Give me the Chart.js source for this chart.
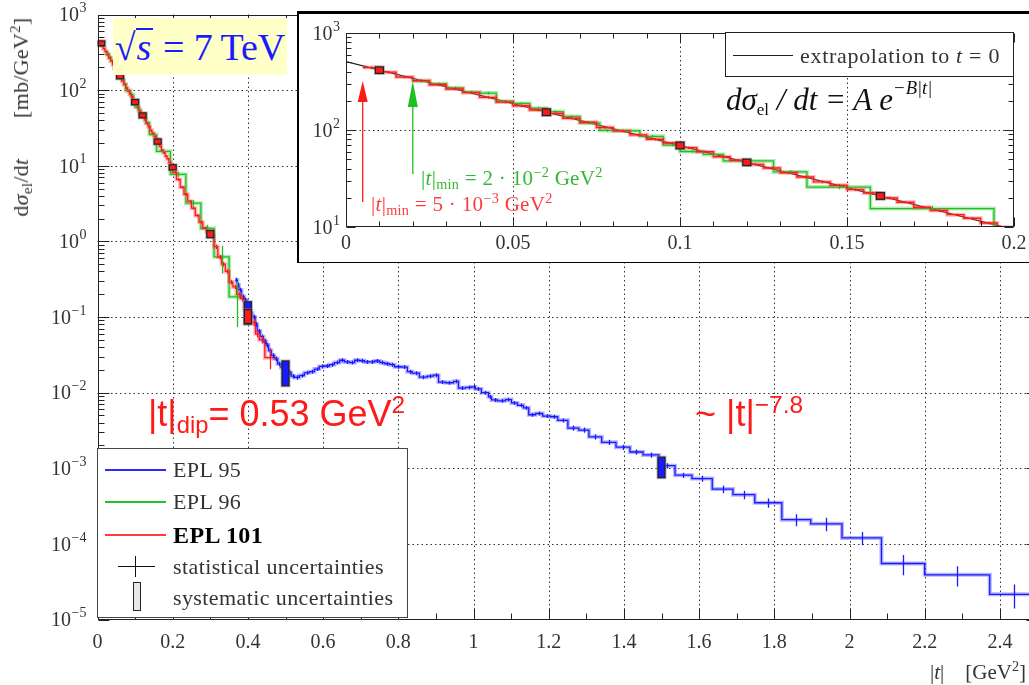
<!DOCTYPE html>
<html>
<head>
<meta charset="utf-8">
<script src="https://cdn.jsdelivr.net/npm/chart.js@4.4.1/dist/chart.umd.min.js"></script>
<style>
  body { margin: 0; width: 1029px; height: 685px; overflow: hidden; background: #fff; position: relative;
         font-family: "Liberation Serif", serif; color: #333; }
  #main { position: absolute; left: 0; top: 0; }
  #insetBox { position: absolute; left: 297px; top: 11px; width: 760px; height: 248px; background: #fff;
              border-top: 3px solid #000; border-left: 2px solid #000; border-bottom: 1px solid #000; }
  #inset { position: absolute; left: 0; top: 0; }
  .abs { position: absolute; white-space: nowrap; line-height: 1; }
  sub, sup { font-size: 0.68em; line-height: 0; }
  sub { vertical-align: -0.3em; }
  sup { vertical-align: 0.55em; }
  #ytitle { left: 21px; top: 117px; font-size: 22px; letter-spacing: 0.3px; transform: translate(-50%, -50%) rotate(-90deg); }
  #xtitle { left: 930px; top: 662px; font-size: 21px; }
  #energy { left: 113px; top: 18px; width: 174px; height: 57px; background: #ffffc8; color: #1a1aff;
            font-size: 38px; display: flex; align-items: center; justify-content: center; }
  #energy .ov { border-top: 2px solid #1a1aff; font-style: italic; padding: 0 2px 0 1px; line-height: 0.9; }
  .red { color: #ff1a1a; font-family: "Liberation Sans", Arial, sans-serif; font-size: 36px; }
  #legend { left: 97px; top: 448px; width: 311px; height: 170px; box-sizing: border-box;
            border: 1.5px solid #444; background: #fff; }
  #legend .txt { position: absolute; left: 75px; transform: translateY(-50%); font-size: 22px; letter-spacing: 0.4px; white-space: nowrap; }
  #legend .ln { position: absolute; left: 7px; width: 61px; height: 1.5px; }
  #extrap { left: 725px; top: 32px; width: 289px; height: 45px; box-sizing: border-box; border: 1px solid #222; background: #fff; }
  #formula { left: 726px; top: 84px; font-size: 31px; font-style: italic; color: #111; }
  .lab { font-size: 21px; letter-spacing: 0.3px; }
</style>
</head>
<body>
<canvas id="main" width="1060" height="685"></canvas>

<div id="ytitle" class="abs">d<i>σ</i><sub>el</sub>/d<i>t</i>&nbsp;&nbsp;&nbsp;&nbsp;&nbsp;&nbsp;&nbsp;[mb/GeV<sup>2</sup>]</div>
<div id="xtitle" class="abs">|<i>t</i>|&nbsp;&nbsp;&nbsp;&nbsp;[GeV<sup>2</sup>]</div>
<div id="energy" class="abs"><span>√</span><span class="ov">s</span>&nbsp;=&nbsp;7&thinsp;TeV</div>
<div class="abs red" style="left:148px; top:396px;">|t|<sub style="font-size:0.66em">dip</sub>= 0.53 GeV<sup>2</sup></div>
<div class="abs red" style="left:695px; top:396px;">~ |t|<sup>−7.8</sup></div>

<div id="legend" class="abs">
  <div class="ln" style="top:20px; background:#2a2aff;"></div>
  <div class="txt" style="top:21px;">EPL 95</div>
  <div class="ln" style="top:52px; background:#2ac02a;"></div>
  <div class="txt" style="top:53px;">EPL 96</div>
  <div class="ln" style="top:85px; background:#ff3a3a;"></div>
  <div class="txt" style="top:86px; font-weight:bold; font-size:24px; color:#000;">EPL 101</div>
  <div style="position:absolute; left:20px; top:117px; width:37px; height:1.2px; background:#111;"></div>
  <div style="position:absolute; left:37px; top:107px; width:1.2px; height:21px; background:#111;"></div>
  <div class="txt" style="top:118px;">statistical uncertainties</div>
  <div style="position:absolute; left:35px; top:133px; width:6px; height:27px; background:#e8e8e8; border:1px solid #222;"></div>
  <div class="txt" style="top:149px;">systematic uncertainties</div>
</div>

<div id="insetBox"><canvas id="inset" width="760" height="248"></canvas></div>
<div id="extrap" class="abs">
  <div style="position:absolute; left:7px; top:22px; width:60px; height:1.2px; background:#222;"></div>
  <div class="abs" style="left:74px; top:12px; font-size:22px; letter-spacing:0.7px;">extrapolation to <i>t</i> = 0</div>
</div>
<div id="formula" class="abs">dσ<sub style="font-style:normal; font-size:0.55em">el</sub> / dt = A e<sup style="font-size:0.6em; vertical-align:0.85em">−B|t|</sup></div>
<div class="abs lab" style="left:421px; top:168px; color:#33b833;">|<i>t</i>|<sub>min</sub> = 2 · 10<sup>−2</sup> GeV<sup>2</sup></div>
<div class="abs lab" style="left:371px; top:194px; color:#ff3a3a;">|<i>t</i>|<sub>min</sub> = 5 · 10<sup>−3</sup> GeV<sup>2</sup></div>

<script>
// ---------- data ----------
// EPL 95 (blue): bin lower edges in |t| [GeV^2], dsigma/dt [mb/GeV^2], relative stat. error
const blueLo = [0.366, 0.372, 0.376, 0.383, 0.390, 0.397, 0.404, 0.412, 0.419, 0.425,
  0.433, 0.441, 0.449, 0.455, 0.462, 0.470, 0.479, 0.488, 0.497, 0.507,
  0.515, 0.524, 0.537, 0.550, 0.564, 0.577, 0.590, 0.604, 0.617, 0.630,
  0.644, 0.657, 0.671, 0.684, 0.697, 0.710, 0.724, 0.737, 0.751, 0.764,
  0.777, 0.790, 0.808, 0.824, 0.837, 0.856, 0.877, 0.893, 0.907, 0.925,
  0.947, 0.960, 0.979, 0.995, 1.005, 1.021, 1.040, 1.048, 1.064, 1.085,
  1.101, 1.117, 1.133, 1.147, 1.165, 1.184, 1.205, 1.224, 1.251, 1.280,
  1.307, 1.341, 1.379, 1.416, 1.451, 1.493, 1.536, 1.581, 1.635, 1.690,
  1.748, 1.820, 1.897, 1.980, 2.085, 2.200, 2.373];
const blueEnd = 2.5;
const blueVals = [0.308, 0.264, 0.228, 0.185, 0.168, 0.130, 0.112, 0.100, 0.080, 0.065,
  0.055, 0.047, 0.0425, 0.036, 0.031, 0.028, 0.024, 0.0216, 0.0195, 0.0183,
  0.0165, 0.0159, 0.0168, 0.0183, 0.0189, 0.0205, 0.0222, 0.0225, 0.0234, 0.0250,
  0.0268, 0.0255, 0.0250, 0.0268, 0.0264, 0.0255, 0.0255, 0.0262, 0.0250, 0.0241,
  0.0234, 0.0220, 0.0218, 0.0189, 0.0181, 0.0160, 0.0165, 0.0170, 0.0138, 0.0135,
  0.0141, 0.0115, 0.0117, 0.0119, 0.0112, 0.0100, 0.0088, 0.0080, 0.0078, 0.0081,
  0.0073, 0.0068, 0.0063, 0.0051, 0.0053, 0.0049, 0.0048, 0.0043, 0.0034, 0.0032,
  0.0026, 0.0022, 0.0019, 0.00164, 0.0015, 0.00108, 0.00081, 0.00073, 0.00053, 0.000447,
  0.00035, 0.000209, 0.000184, 0.00012, 0.000055, 0.000039, 0.0000215];
const blueErr = [0.07, 0.07, 0.07, 0.07, 0.07, 0.07, 0.07, 0.07, 0.07, 0.07,
  0.07, 0.07, 0.07, 0.07, 0.07, 0.07, 0.07, 0.07, 0.07, 0.07,
  0.07, 0.07, 0.06, 0.06, 0.06, 0.06, 0.06, 0.06, 0.06, 0.06,
  0.06, 0.06, 0.06, 0.06, 0.06, 0.06, 0.06, 0.06, 0.06, 0.06,
  0.06, 0.06, 0.06, 0.06, 0.06, 0.06, 0.06, 0.06, 0.06, 0.06,
  0.06, 0.06, 0.06, 0.06, 0.06, 0.06, 0.06, 0.06, 0.06, 0.06,
  0.06, 0.06, 0.06, 0.06, 0.06, 0.06, 0.06, 0.06, 0.08, 0.08,
  0.08, 0.08, 0.08, 0.08, 0.08, 0.08, 0.08, 0.09, 0.12, 0.13,
  0.14, 0.18, 0.20, 0.20, 0.30, 0.30, 0.35];

// EPL 96 (green)
const greenLo = [0.020, 0.025, 0.030, 0.035, 0.040, 0.045, 0.050, 0.055, 0.060, 0.065,
  0.070, 0.076, 0.080, 0.088, 0.095, 0.100, 0.107, 0.113, 0.128, 0.138,
  0.157, 0.194, 0.235, 0.275, 0.310, 0.350];
const greenEnd = 0.39;
const greenVals = [320, 300, 272, 245, 240, 198, 188, 168, 155, 138,
  118, 99, 98, 86, 70, 60, 56, 48, 37, 25.8,
  15.5, 7.7, 3.2, 1.48, 0.625, 0.185];
const greenErr = [0.03, 0.03, 0.03, 0.03, 0.03, 0.03, 0.03, 0.03, 0.03, 0.03,
  0.03, 0.03, 0.03, 0.03, 0.03, 0.03, 0.03, 0.03, 0.04, 0.05,
  0.06, 0.08, 0.10, 0.12, 0.40, 0.60];

// EPL 101 (red)
const redLo = [0.005, 0.010, 0.015, 0.020, 0.025, 0.030, 0.035, 0.040, 0.045, 0.050,
  0.055, 0.060, 0.065, 0.070, 0.075, 0.080, 0.085, 0.090, 0.095, 0.100,
  0.105, 0.110, 0.115, 0.120, 0.125, 0.130, 0.135, 0.140, 0.145, 0.150,
  0.155, 0.160, 0.165, 0.170, 0.175, 0.180, 0.185, 0.190, 0.195,
  0.200, 0.210, 0.220, 0.230, 0.240, 0.250, 0.260, 0.270, 0.280, 0.290,
  0.300, 0.310, 0.320, 0.330, 0.340, 0.350, 0.360, 0.370, 0.380, 0.390,
  0.400, 0.410, 0.420, 0.430, 0.445];
const redEnd = 0.475;
const redVals = [440, 395, 352, 323, 293, 265, 243, 217, 194, 178,
  161, 148, 132, 120, 106, 98, 89, 80.3, 73.5, 65.8,
  59.6, 53.0, 48.8, 44.2, 40.6, 36.2, 32.8, 29.2, 26.9, 24.3,
  22.4, 19.9, 18.0, 16.0, 14.8, 13.4, 12.3, 11.0, 9.94,
  8.2, 6.6, 5.2, 4.2, 3.4, 2.75, 2.2, 1.8, 1.5, 1.35,
  1.2, 0.85, 0.62, 0.50, 0.40, 0.29, 0.25, 0.20, 0.175, 0.13,
  0.105, 0.085, 0.06, 0.05, 0.029];
const redErr = [0.03, 0.03, 0.03, 0.03, 0.03, 0.03, 0.03, 0.03, 0.03, 0.03,
  0.03, 0.03, 0.03, 0.03, 0.03, 0.03, 0.03, 0.03, 0.03, 0.03,
  0.03, 0.03, 0.03, 0.03, 0.03, 0.03, 0.03, 0.03, 0.03, 0.03,
  0.03, 0.03, 0.03, 0.03, 0.03, 0.03, 0.03, 0.03, 0.03,
  0.04, 0.04, 0.04, 0.04, 0.04, 0.04, 0.04, 0.04, 0.04, 0.04,
  0.07, 0.07, 0.07, 0.07, 0.07, 0.07, 0.07, 0.07, 0.07, 0.07,
  0.10, 0.10, 0.10, 0.10, 0.30];

// systematic uncertainty boxes
const sysT      = [0.01, 0.06, 0.10, 0.12, 0.16, 0.20, 0.30, 0.40, 0.40, 0.50, 1.50];
const sysLo     = [383, 141, 64, 43, 19.3, 8.8, 1.12, 0.080, 0.082, 0.0123, 0.00075];
const sysHi     = [447, 165, 75, 50, 22.6, 10.3, 1.39, 0.159, 0.125, 0.0262, 0.0014];
const sysSeries = ['red', 'red', 'red', 'red', 'red', 'red', 'red', 'blue', 'red', 'blue', 'blue'];

// exponential extrapolation to t = 0 (inset)
const extrapT = [0, 0.2];
const extrapV = [506, 9.4];
// |t|min arrows (inset)
const arrowT = [0.005, 0.02];
const arrowSeries = ['red', 'green'];

// tick labels
const mainXTicks = [0, 0.2, 0.4, 0.6, 0.8, 1, 1.2, 1.4, 1.6, 1.8, 2, 2.2, 2.4];
const mainYExp = [-5, -4, -3, -2, -1, 0, 1, 2, 3];
const insetXTicks = [0, 0.05, 0.1, 0.15, 0.2];
const insetYExp = [1, 2, 3];

// ---------- drawing ----------
const colors = { blue: '#1a1aff', green: '#1fbf1f', red: '#ff1a1a' };
const bands = { blue: 'rgba(70,70,255,0.40)', green: 'rgba(40,200,40,0.35)', red: 'rgba(255,80,80,0.40)' };

function histData(lo, vals, end) {
  const pts = lo.map((t, i) => ({ x: t, y: vals[i] }));
  pts.push({ x: end, y: vals[vals.length - 1] });
  return pts;
}

function histSet(lo, vals, end, color, width, order) {
  return {
    data: histData(lo, vals, end), borderColor: color, borderWidth: width,
    stepped: true, pointRadius: 0, fill: false, order: order
  };
}

const series = {
  blue: { lo: blueLo, vals: blueVals, end: blueEnd, err: blueErr },
  green: { lo: greenLo, vals: greenVals, end: greenEnd, err: greenErr },
  red: { lo: redLo, vals: redVals, end: redEnd, err: redErr }
};

function fmt(v) { return String(parseFloat(v.toFixed(3))); }

function makeFrame(cfg) {
  return {
    id: 'frame',
    beforeDatasetsDraw(chart) {
      const { ctx, chartArea: a, scales: { x, y } } = chart;
      ctx.save();
      ctx.strokeStyle = '#333';
      ctx.lineWidth = 1;
      ctx.setLineDash([1.5, 3]);
      ctx.beginPath();
      cfg.gridX.forEach(v => {
        const px = Math.round(x.getPixelForValue(v)) + 0.5;
        ctx.moveTo(px, a.top); ctx.lineTo(px, a.bottom);
      });
      cfg.gridY.forEach(e => {
        const py = Math.round(y.getPixelForValue(Math.pow(10, e))) + 0.5;
        ctx.moveTo(a.left, py); ctx.lineTo(a.right, py);
      });
      ctx.stroke();
      ctx.restore();
    },
    afterDatasetsDraw(chart) {
      const { ctx, chartArea: a, scales: { x, y } } = chart;
      ctx.save();
      ctx.beginPath();
      ctx.rect(a.left, a.top, a.right - a.left, a.bottom - a.top);
      ctx.clip();

      // statistical error bars at bin centres
      cfg.series.forEach(name => {
        const s = series[name];
        ctx.strokeStyle = colors[name];
        ctx.lineWidth = 1.3;
        ctx.beginPath();
        s.lo.forEach((t0, i) => {
          const t1 = i + 1 < s.lo.length ? s.lo[i + 1] : s.end;
          const px = Math.round(x.getPixelForValue((t0 + t1) / 2)) + 0.5;
          const v = s.vals[i], e = s.err[i];
          ctx.moveTo(px, y.getPixelForValue(v * (1 + e)));
          ctx.lineTo(px, y.getPixelForValue(Math.max(v * (1 - e), 1e-9)));
        });
        ctx.stroke();
      });

      // systematic boxes
      sysT.forEach((t, i) => {
        if (t < cfg.sysMin || t > cfg.sysMax) return;
        const cx = x.getPixelForValue(t), w = cfg.boxW;
        const y0 = y.getPixelForValue(sysHi[i]), y1 = y.getPixelForValue(sysLo[i]);
        ctx.fillStyle = 'rgba(130,130,130,0.55)';
        ctx.fillRect(cx - w / 2 - 1.5, y0 - 1.5, w + 3, y1 - y0 + 3);
        ctx.fillStyle = colors[sysSeries[i]];
        ctx.fillRect(cx - w / 2, y0, w, y1 - y0);
        ctx.strokeStyle = '#222';
        ctx.lineWidth = 1.2;
        ctx.strokeRect(cx - w / 2, y0, w, y1 - y0);
      });

      // |t|min arrows
      if (cfg.arrows) {
        arrowT.forEach((t, i) => {
          const px = x.getPixelForValue(t), g = cfg.arrows[i];
          ctx.strokeStyle = colors[arrowSeries[i]];
          ctx.fillStyle = colors[arrowSeries[i]];
          ctx.lineWidth = 1.3;
          ctx.beginPath();
          ctx.moveTo(px, g.bottom); ctx.lineTo(px, g.head);
          ctx.stroke();
          ctx.beginPath();
          ctx.moveTo(px, g.tip); ctx.lineTo(px - 5, g.head); ctx.lineTo(px + 5, g.head);
          ctx.closePath();
          ctx.fill();
        });
      }
      ctx.restore();

      // frame and ticks
      ctx.save();
      ctx.strokeStyle = '#222';
      ctx.lineWidth = 1;
      ctx.setLineDash([]);
      const L = Math.round(a.left) + 0.5, R = Math.round(a.right) - 0.5;
      const T = Math.round(a.top) + 0.5, B = Math.round(a.bottom) - 0.5;
      ctx.strokeRect(L, T, R - L, B - T);
      ctx.beginPath();
      const nx = Math.round(cfg.xMax / cfg.xMinor);
      for (let k = 0; k <= nx; k++) {
        const px = Math.round(x.getPixelForValue(k * cfg.xMinor)) + 0.5;
        const len = k % cfg.xMajorEvery === 0 ? cfg.majorLen : cfg.minorLen;
        ctx.moveTo(px, B); ctx.lineTo(px, B - len);
        ctx.moveTo(px, T); ctx.lineTo(px, T + len);
      }
      for (let d = cfg.yExp[0]; d <= cfg.yExp[cfg.yExp.length - 1]; d++) {
        for (let m = 1; m <= 9; m++) {
          if (d === cfg.yExp[cfg.yExp.length - 1] && m > 1) break;
          const py = Math.round(y.getPixelForValue(m * Math.pow(10, d))) + 0.5;
          const len = m === 1 ? cfg.majorLen : cfg.minorLen;
          ctx.moveTo(L, py); ctx.lineTo(L + len, py);
          ctx.moveTo(R, py); ctx.lineTo(R - len, py);
        }
      }
      ctx.stroke();

      // tick labels
      ctx.fillStyle = '#333';
      ctx.textAlign = 'center';
      ctx.textBaseline = 'middle';
      ctx.font = '20px "Liberation Serif"';
      cfg.xTicks.forEach(v => ctx.fillText(fmt(v), x.getPixelForValue(v), a.bottom + cfg.xLabelDy));
      cfg.yExp.forEach(e => {
        const py = y.getPixelForValue(Math.pow(10, e));
        const xr = a.left - cfg.yLabelGap;
        const txt = String(e).replace('-', '\u2212');
        ctx.textAlign = 'right';
        ctx.font = '14px "Liberation Serif"';
        const ew = ctx.measureText(txt).width;
        ctx.fillText(txt, xr, py - 6);
        ctx.font = '20px "Liberation Serif"';
        ctx.fillText('10', xr - ew - 0.5, py + 1.5);
      });
      ctx.restore();
    }
  };
}

const baseOptions = (xMax, yMin, yMax, pad) => ({
  responsive: false, animation: false, devicePixelRatio: 1,
  layout: { padding: pad },
  scales: {
    x: { type: 'linear', min: 0, max: xMax, display: false },
    y: { type: 'logarithmic', min: yMin, max: yMax, display: false }
  },
  plugins: { legend: { display: false }, tooltip: { enabled: false } }
});

// main plot
new Chart(document.getElementById('main'), {
  type: 'line',
  data: {
    datasets: [
      histSet(redLo, redVals, redEnd, colors.red, 1.3, 0),
      histSet(redLo, redVals, redEnd, bands.red, 4, 1),
      histSet(greenLo, greenVals, greenEnd, colors.green, 1.3, 2),
      histSet(greenLo, greenVals, greenEnd, bands.green, 4, 3),
      histSet(blueLo, blueVals, blueEnd, colors.blue, 1.3, 4),
      histSet(blueLo, blueVals, blueEnd, bands.blue, 4, 5)
    ]
  },
  options: baseOptions(2.5, 1e-5, 1e3, { left: 97.5, top: 14.5, right: 22.5, bottom: 65.5 }),
  plugins: [makeFrame({
    gridX: mainXTicks.slice(1), gridY: [-4, -3, -2, -1, 0, 1, 2],
    series: ['blue', 'green', 'red'], sysMin: 0, sysMax: 3, boxW: 7,
    xMinor: 0.1, xMajorEvery: 2, xMax: 2.5, majorLen: 11, minorLen: 6,
    xTicks: mainXTicks, yExp: mainYExp, xLabelDy: 23, yLabelGap: 11
  })]
});

// inset (canvas origin is at page x 299, y 14)
new Chart(document.getElementById('inset'), {
  type: 'line',
  data: {
    datasets: [
      histSet(redLo, redVals, redEnd, colors.red, 1.4, 0),
      histSet(redLo, redVals, redEnd, bands.red, 4, 1),
      histSet(greenLo, greenVals, greenEnd, colors.green, 1.3, 2),
      histSet(greenLo, greenVals, greenEnd, bands.green, 4, 3),
      {
        data: extrapT.map((t, i) => ({ x: t, y: extrapV[i] })), borderColor: '#222',
        borderWidth: 1.2, pointRadius: 0, fill: false, order: 4
      }
    ]
  },
  options: baseOptions(0.2, 10, 1000, { left: 47, top: 19, right: 45, bottom: 35 }),
  plugins: [makeFrame({
    gridX: [0.05, 0.1, 0.15], gridY: [2],
    series: ['green', 'red'], sysMin: 0, sysMax: 0.19, boxW: 8,
    arrows: [{ tip: 67, head: 88, bottom: 188 }, { tip: 67, head: 93, bottom: 160 }],
    xMinor: 0.01, xMajorEvery: 5, xMax: 0.2, majorLen: 9, minorLen: 5,
    xTicks: insetXTicks, yExp: insetYExp, xLabelDy: 17, yLabelGap: 6
  })]
});
</script>
</body>
</html>
